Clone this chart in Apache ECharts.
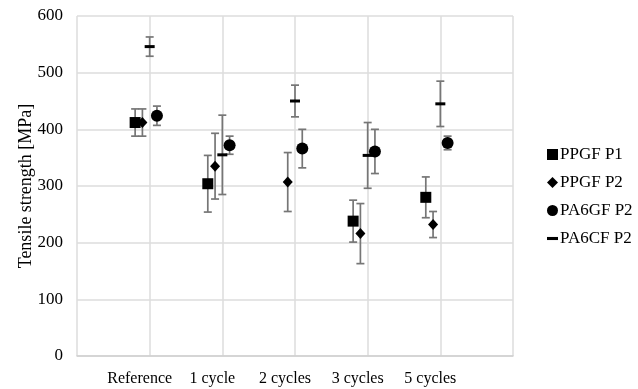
<!DOCTYPE html>
<html>
<head>
<meta charset="utf-8">
<script src="https://cdn.jsdelivr.net/npm/echarts@6/dist/echarts.min.js"></script>
<style>
  html, body { margin: 0; padding: 0; background: #fff; }
  #chart { width: 638px; height: 389px; }
</style>
</head>
<body>
<div id="chart"></div>
<script>
// categories on the x axis (placed at 1..5)
var categories = ['Reference', '1 cycle', '2 cycles', '3 cycles', '5 cycles'];
var yTicks = [0, 100, 200, 300, 400, 500, 600];

// mean tensile strength [MPa] and error (+/-)
var ppgfP1Mean = [412, 304, null, 238, 280];
var ppgfP1Err  = [24, 50, null, 37, 36];
var ppgfP2Mean = [412, 335, 307, 216, 232];
var ppgfP2Err  = [24, 58, 52, 53, 23];
var pa6gfP2Mean = [424, 372, 366, 361, 376];
var pa6gfP2Err  = [17, 16, 34, 39, 12];
var pa6cfP2Mean = [546, 355, 450, 354, 445];
var pa6cfP2Err  = [17, 70, 28, 58, 40];

var serif = 'Liberation Serif';
var barColor = '#767676';

// build [x, mean] points, shifted a bit inside each category
function points(means, shift) {
  var out = [];
  for (var i = 0; i < means.length; i++) {
    if (means[i] == null) continue;
    out.push([i + 1 + shift, means[i]]);
  }
  return out;
}
function errRows(means, errs, shift) {
  var out = [];
  for (var i = 0; i < means.length; i++) {
    if (means[i] == null) continue;
    out.push([i + 1 + shift, means[i] - errs[i], means[i] + errs[i]]);
  }
  return out;
}

function renderErr(params, api) {
  var x = api.value(0);
  var top = api.coord([x, api.value(2)]);
  var bot = api.coord([x, api.value(1)]);
  var w = 4;
  var st = { stroke: barColor, lineWidth: 1.7 };
  return {
    type: 'group',
    children: [
      { type: 'line', shape: { x1: top[0], y1: top[1], x2: bot[0], y2: bot[1] }, style: st },
      { type: 'line', shape: { x1: top[0] - w, y1: top[1], x2: top[0] + w, y2: top[1] }, style: st },
      { type: 'line', shape: { x1: bot[0] - w, y1: bot[1], x2: bot[0] + w, y2: bot[1] }, style: st }
    ]
  };
}

function errSeries(means, errs, shift) {
  return {
    type: 'custom',
    renderItem: renderErr,
    data: errRows(means, errs, shift),
    encode: { x: 0, y: [1, 2] },
    silent: true,
    z: 1
  };
}

var dashIcon = 'path://M0,0 L0,0 M10,10 L10,10 M0,3.6 L10,3.6 L10,6.4 L0,6.4 Z';

var chart = echarts.init(document.getElementById('chart'));
chart.setOption({
  animation: false,
  backgroundColor: '#fff',
  grid: { left: 77, right: 125, top: 16, bottom: 33 },
  legend: {
    orient: 'vertical',
    left: 542,
    top: 141,
    itemWidth: 11,
    itemHeight: 11,
    itemGap: 11,
    textStyle: { fontFamily: serif, fontSize: 17, color: '#000', padding: [0, 0, 0, -3] },
    data: [
      { name: 'PPGF P1', icon: 'rect' },
      { name: 'PPGF P2', icon: 'diamond' },
      { name: 'PA6GF P2', icon: 'circle' },
      { name: 'PA6CF P2', icon: dashIcon }
    ]
  },
  xAxis: {
    type: 'value',
    min: 0,
    max: 6,
    interval: 1,
    axisLine: { show: true, lineStyle: { color: '#cfcfcf', width: 1.5 } },
    axisTick: { show: false },
    splitLine: { show: true, lineStyle: { color: '#dcdcdc', width: 1.5 } },
    axisLabel: {
      fontFamily: serif,
      fontSize: 16,
      color: '#000',
      margin: 15,
      padding: [0, 20, 0, 0],
      formatter: function (v) { return categories[v - 1] || ''; }
    }
  },
  yAxis: {
    type: 'value',
    min: yTicks[0],
    max: yTicks[yTicks.length - 1],
    interval: 100,
    name: 'Tensile strength [MPa]',
    nameLocation: 'middle',
    nameGap: 42,
    nameMoveOverlap: false,
    nameTextStyle: { fontFamily: serif, fontSize: 18, color: '#000' },
    axisLine: { show: false },
    axisTick: { show: false },
    splitLine: { show: true, lineStyle: { color: '#dcdcdc', width: 1.5 } },
    axisLabel: { fontFamily: serif, fontSize: 17, color: '#000', margin: 14 }
  },
  series: [
    errSeries(ppgfP1Mean, ppgfP1Err, -0.2),
    errSeries(ppgfP2Mean, ppgfP2Err, -0.1),
    errSeries(pa6gfP2Mean, pa6gfP2Err, 0.1),
    errSeries(pa6cfP2Mean, pa6cfP2Err, 0),
    {
      name: 'PPGF P1', type: 'scatter', symbol: 'rect', symbolSize: 11,
      itemStyle: { color: '#000', opacity: 1 }, z: 3,
      data: points(ppgfP1Mean, -0.2)
    },
    {
      name: 'PPGF P2', type: 'scatter', symbol: 'diamond', symbolSize: [10, 11],
      itemStyle: { color: '#000', opacity: 1 }, z: 3,
      data: points(ppgfP2Mean, -0.1)
    },
    {
      name: 'PA6GF P2', type: 'scatter', symbol: 'circle', symbolSize: 12,
      itemStyle: { color: '#000', opacity: 1 }, z: 3,
      data: points(pa6gfP2Mean, 0.1)
    },
    {
      name: 'PA6CF P2', type: 'scatter', symbol: 'rect', symbolSize: [10, 3],
      itemStyle: { color: '#000', opacity: 1 }, z: 3,
      data: points(pa6cfP2Mean, 0)
    }
  ]
});
</script>
</body>
</html>
